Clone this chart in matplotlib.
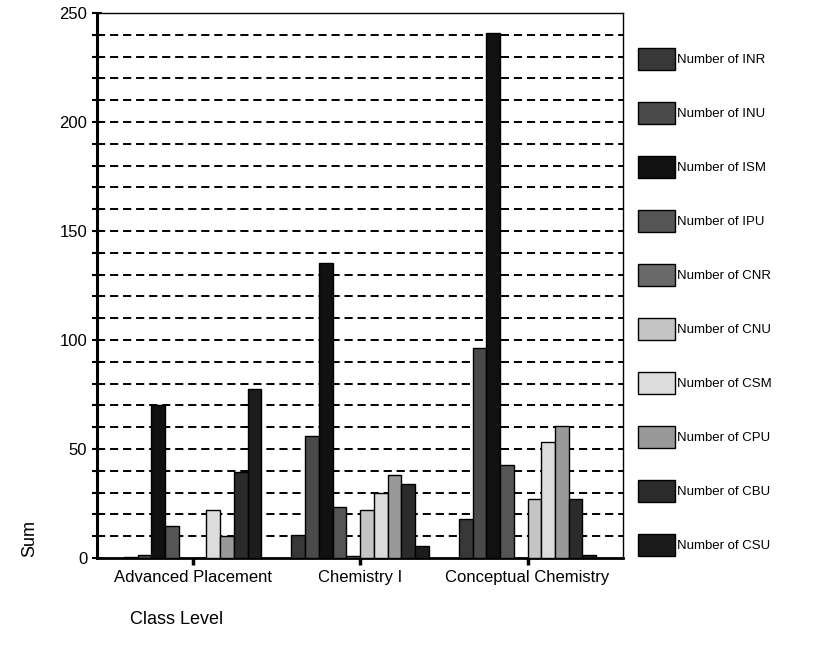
import numpy as np
import matplotlib
matplotlib.use('Agg')
import matplotlib.pyplot as plt
from matplotlib.ticker import MultipleLocator

plt.rcParams['font.family'] = ['Liberation Sans', 'DejaVu Sans']

classes = ['Advanced Placement', 'Chemistry I', 'Conceptual Chemistry']
series = ['Number of INR', 'Number of INU', 'Number of ISM', 'Number of IPU',
          'Number of CNR', 'Number of CNU', 'Number of CSM', 'Number of CPU',
          'Number of CBU', 'Number of CSU']
# one list per class level, in series order
ap_vals = [0.5, 1.5, 70, 14.5, 0, 0, 22, 10, 39.5, 77.5]
chem1_vals = [10.5, 56, 135.5, 23.5, 1, 22, 30, 38, 34, 5.5]
concept_vals = [18, 96.5, 241, 42.5, 0, 27, 53, 60.5, 27, 1.5]
colors = ['#383838', '#4a4a4a', '#111111', '#555555', '#6a6a6a',
          '#c4c4c4', '#dcdcdc', '#999999', '#2b2b2b', '#1c1c1c']

values = np.array([ap_vals, chem1_vals, concept_vals])

fig = plt.figure(figsize=(8.16, 6.53), dpi=100)
ax = fig.add_axes([0.119, 0.1455, 0.6445, 0.8345])

x = np.arange(len(classes))
w = 0.082
for i, name in enumerate(series):
    ax.bar(x + (i - 4.5) * w, values[:, i], width=w, color=colors[i],
           edgecolor='black', linewidth=1.0, label=name, zorder=3)

# dashed reference lines every 10
for yv in range(10, 250, 10):
    ax.axhline(yv, color='black', lw=1.4, ls=(0, (4.2, 2.5)), zorder=1)

ax.set_xlim(-0.57, 2.57)
ax.set_ylim(0, 250)
ax.yaxis.set_major_locator(MultipleLocator(50))
ax.yaxis.set_minor_locator(MultipleLocator(10))
ax.tick_params(axis='y', which='both', direction='inout', length=7, width=1.5, labelsize=12)
ax.tick_params(axis='x', direction='out', length=5, width=2.5, labelsize=12)
ax.set_xticks(x)
ax.set_xticklabels(classes)

ax.spines['left'].set_linewidth(2.2)
ax.spines['bottom'].set_linewidth(2.0)
ax.spines['top'].set_linewidth(1.0)
ax.spines['right'].set_linewidth(1.0)

ax.set_ylabel('Sum', fontsize=13)
ax.yaxis.set_label_coords(-0.112, 0.035)
fig.text(130 / 816, 1 - 620 / 653, 'Class Level', ha='left', va='center', fontsize=13)

fig.legend(loc='upper left', bbox_to_anchor=(0.782, 0.927), frameon=False,
           borderpad=0, borderaxespad=0, fontsize=9.5, handlelength=2.8,
           handleheight=2.2, labelspacing=2.42, handletextpad=0.15)

fig.savefig('out.png', dpi=100)
